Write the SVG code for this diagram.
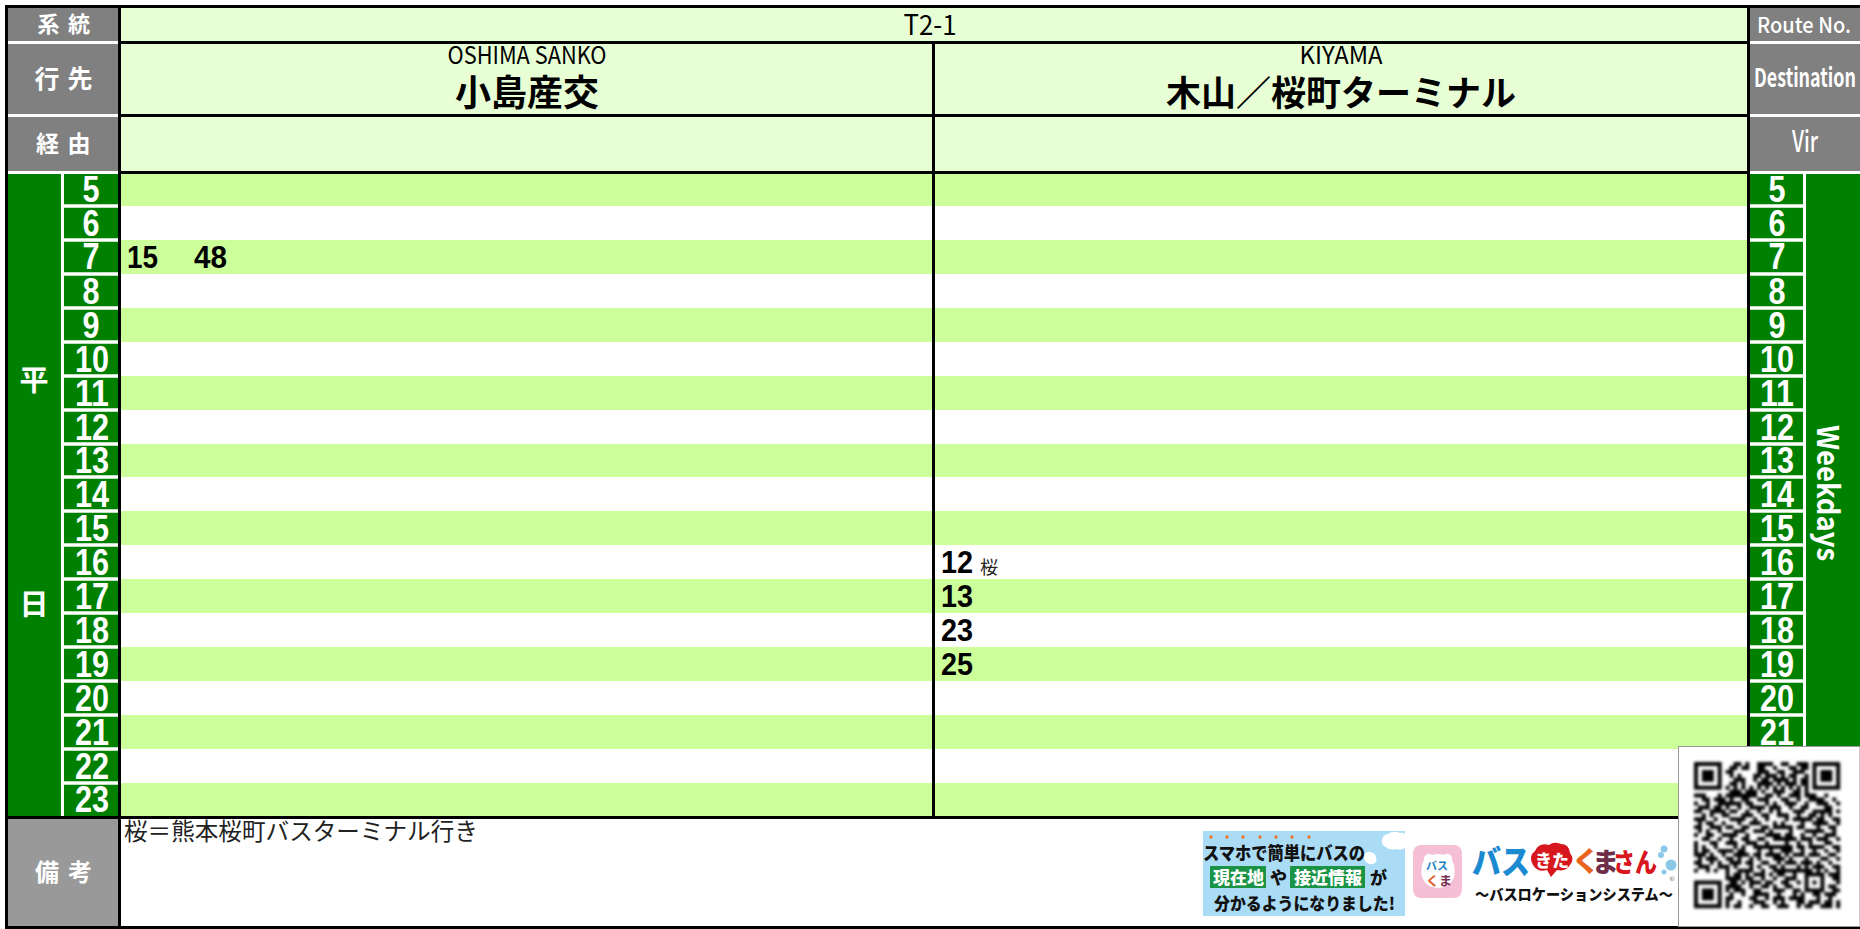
<svg xmlns="http://www.w3.org/2000/svg" width="1860" height="929" viewBox="0 0 1860 929">
<defs>
<filter id="soft" x="-5%" y="-5%" width="110%" height="110%"><feGaussianBlur stdDeviation="0.4"/></filter>
</defs>
<style>
text{font-family:"Noto Sans CJK JP","Liberation Sans",sans-serif}
.lab{fill:#fff;font-weight:700;text-anchor:middle}
.hr{fill:#fff;font-family:"Liberation Sans",Arial,sans-serif;font-weight:700;font-size:37px;text-anchor:middle}
.t{fill:#000;font-family:"Liberation Sans",Arial,sans-serif;font-weight:700;font-size:32px}
.en{fill:#000;font-size:24px;text-anchor:middle}
.dest{fill:#000;font-size:36px;font-weight:700;text-anchor:middle}
.hd{fill:#e8ffd5}.band{fill:#ccff99}.g{fill:#008000}.k{fill:#000}.w{fill:#fff}.gy{fill:#808080}
.ad{font-weight:900;fill:#111;font-size:22px}
</style>
<rect class="w" width="1860" height="929"/>
<g id="header-cells">
<rect class="hd" x="121" y="8" width="1626" height="163"/>
<rect class="gy" x="8" y="8" width="110" height="163"/>
<rect class="gy" x="1750" y="8" width="110" height="163"/>
<rect class="w" x="8" y="41" width="110" height="3"/><rect class="w" x="8" y="114" width="110" height="3"/><rect class="w" x="8" y="171" width="110" height="3"/>
<rect class="w" x="1750" y="41" width="110" height="3"/><rect class="w" x="1750" y="114" width="110" height="3"/><rect class="w" x="1750" y="171" width="110" height="3"/>
</g>
<g id="bands">
<rect class="band" x="121" y="174" width="1626" height="32"/>
<rect class="band" x="121" y="240" width="1626" height="34"/>
<rect class="band" x="121" y="308" width="1626" height="34"/>
<rect class="band" x="121" y="376" width="1626" height="34"/>
<rect class="band" x="121" y="444" width="1626" height="33"/>
<rect class="band" x="121" y="511" width="1626" height="34"/>
<rect class="band" x="121" y="579" width="1626" height="34"/>
<rect class="band" x="121" y="647" width="1626" height="34"/>
<rect class="band" x="121" y="715" width="1626" height="34"/>
<rect class="band" x="121" y="783" width="1626" height="33"/>
</g>
<g id="green-columns">
<rect class="g" x="8" y="174" width="110" height="642"/>
<rect class="g" x="1750" y="174" width="110" height="642"/>
<rect class="w" x="61" y="174" width="3" height="642"/>
<rect class="w" x="1803" y="174" width="3" height="642"/>
<path d="M61 206H118M61 240H118M61 274H118M61 308H118M61 342H118M61 376H118M61 410H118M61 444H118M61 477H118M61 511H118M61 545H118M61 579H118M61 613H118M61 647H118M61 681H118M61 715H118M61 749H118M61 783H118M1750 206H1806M1750 240H1806M1750 274H1806M1750 308H1806M1750 342H1806M1750 376H1806M1750 410H1806M1750 444H1806M1750 477H1806M1750 511H1806M1750 545H1806M1750 579H1806M1750 613H1806M1750 647H1806M1750 681H1806M1750 715H1806M1750 749H1806" stroke="#fff" stroke-width="3.4" fill="none"/>
</g>
<g id="remarks-cell">
<rect x="8" y="819" width="110" height="107" fill="#999"/>
</g>
<g id="rules">
<rect class="k" x="5" y="5" width="1855" height="3"/>
<rect class="k" x="5" y="5" width="3" height="924"/>
<rect class="k" x="118" y="5" width="3" height="921"/>
<rect class="k" x="1747" y="5" width="3" height="814"/>
<rect class="k" x="932" y="41" width="3" height="775"/>
<rect class="k" x="121" y="41" width="1626" height="3"/>
<rect class="k" x="121" y="114" width="1626" height="3"/>
<rect class="k" x="121" y="171" width="1626" height="3"/>
<rect class="k" x="5" y="816" width="1745" height="3"/>
<rect class="k" x="5" y="926" width="1855" height="3"/>
</g>
<g id="left-labels">
<text class="lab" x="48.5" y="32" font-size="22">系</text><text class="lab" x="79" y="32" font-size="22">統</text>
<text class="lab" x="47" y="88" font-size="25">行</text><text class="lab" x="80" y="88" font-size="25">先</text>
<text class="lab" x="47.5" y="152" font-size="23">経</text><text class="lab" x="79" y="152" font-size="23">由</text>
<text class="lab" x="47" y="881" font-size="24">備</text><text class="lab" x="80" y="881" font-size="24">考</text>
<text class="lab" x="34" y="391" font-size="29">平</text><text class="lab" x="34" y="615" font-size="29">日</text>
</g>
<g id="right-labels">
<text class="lab" x="1804" y="33" font-size="22" textLength="94" lengthAdjust="spacingAndGlyphs" style="font-weight:500">Route No.</text>
<text class="lab" x="1805" y="87" font-size="26" textLength="102" lengthAdjust="spacingAndGlyphs">Destination</text>
<text class="lab" x="1805" y="152" font-size="29" textLength="26" lengthAdjust="spacingAndGlyphs" style="font-weight:500">Vir</text>
<text class="lab" font-size="30" textLength="136" lengthAdjust="spacingAndGlyphs" transform="translate(1817,493) rotate(90)">Weekdays</text>
</g>
<g id="left-hours">
<text class="hr" x="91" y="202" textLength="17" lengthAdjust="spacingAndGlyphs">5</text>
<text class="hr" x="91" y="236" textLength="17" lengthAdjust="spacingAndGlyphs">6</text>
<text class="hr" x="91" y="269" textLength="17" lengthAdjust="spacingAndGlyphs">7</text>
<text class="hr" x="91" y="304" textLength="17" lengthAdjust="spacingAndGlyphs">8</text>
<text class="hr" x="91" y="338" textLength="17" lengthAdjust="spacingAndGlyphs">9</text>
<text class="hr" x="92" y="372" textLength="34" lengthAdjust="spacingAndGlyphs">10</text>
<text class="hr" x="92" y="406" textLength="34" lengthAdjust="spacingAndGlyphs">11</text>
<text class="hr" x="92" y="440" textLength="34" lengthAdjust="spacingAndGlyphs">12</text>
<text class="hr" x="92" y="473" textLength="34" lengthAdjust="spacingAndGlyphs">13</text>
<text class="hr" x="92" y="507" textLength="34" lengthAdjust="spacingAndGlyphs">14</text>
<text class="hr" x="92" y="541" textLength="34" lengthAdjust="spacingAndGlyphs">15</text>
<text class="hr" x="92" y="575" textLength="34" lengthAdjust="spacingAndGlyphs">16</text>
<text class="hr" x="92" y="609" textLength="34" lengthAdjust="spacingAndGlyphs">17</text>
<text class="hr" x="92" y="643" textLength="34" lengthAdjust="spacingAndGlyphs">18</text>
<text class="hr" x="92" y="677" textLength="34" lengthAdjust="spacingAndGlyphs">19</text>
<text class="hr" x="92" y="711" textLength="34" lengthAdjust="spacingAndGlyphs">20</text>
<text class="hr" x="92" y="745" textLength="34" lengthAdjust="spacingAndGlyphs">21</text>
<text class="hr" x="92" y="779" textLength="34" lengthAdjust="spacingAndGlyphs">22</text>
<text class="hr" x="92" y="812" textLength="34" lengthAdjust="spacingAndGlyphs">23</text>
</g>
<g id="right-hours">
<text class="hr" x="1777" y="202" textLength="17" lengthAdjust="spacingAndGlyphs">5</text>
<text class="hr" x="1777" y="236" textLength="17" lengthAdjust="spacingAndGlyphs">6</text>
<text class="hr" x="1777" y="269" textLength="17" lengthAdjust="spacingAndGlyphs">7</text>
<text class="hr" x="1777" y="304" textLength="17" lengthAdjust="spacingAndGlyphs">8</text>
<text class="hr" x="1777" y="338" textLength="17" lengthAdjust="spacingAndGlyphs">9</text>
<text class="hr" x="1777" y="372" textLength="34" lengthAdjust="spacingAndGlyphs">10</text>
<text class="hr" x="1777" y="406" textLength="34" lengthAdjust="spacingAndGlyphs">11</text>
<text class="hr" x="1777" y="440" textLength="34" lengthAdjust="spacingAndGlyphs">12</text>
<text class="hr" x="1777" y="473" textLength="34" lengthAdjust="spacingAndGlyphs">13</text>
<text class="hr" x="1777" y="507" textLength="34" lengthAdjust="spacingAndGlyphs">14</text>
<text class="hr" x="1777" y="541" textLength="34" lengthAdjust="spacingAndGlyphs">15</text>
<text class="hr" x="1777" y="575" textLength="34" lengthAdjust="spacingAndGlyphs">16</text>
<text class="hr" x="1777" y="609" textLength="34" lengthAdjust="spacingAndGlyphs">17</text>
<text class="hr" x="1777" y="643" textLength="34" lengthAdjust="spacingAndGlyphs">18</text>
<text class="hr" x="1777" y="677" textLength="34" lengthAdjust="spacingAndGlyphs">19</text>
<text class="hr" x="1777" y="711" textLength="34" lengthAdjust="spacingAndGlyphs">20</text>
<text class="hr" x="1777" y="745" textLength="34" lengthAdjust="spacingAndGlyphs">21</text>
</g>
<g id="header-text">
<text class="en" x="930" y="35" textLength="53" lengthAdjust="spacingAndGlyphs" style="font-size:28px">T2-1</text>
<text class="en" x="527" y="64" textLength="159" lengthAdjust="spacingAndGlyphs">OSHIMA SANKO</text>
<text class="dest" x="527" y="106">小島産交</text>
<text class="en" x="1341" y="64" textLength="83" lengthAdjust="spacingAndGlyphs">KIYAMA</text>
<text class="dest" x="1341" y="106" style="font-size:35px">木山／桜町ターミナル</text>
</g>
<g id="times">
<text class="t" x="127" y="268" textLength="31" lengthAdjust="spacingAndGlyphs">15</text>
<text class="t" x="194" y="268" textLength="33" lengthAdjust="spacingAndGlyphs">48</text>
<text class="t" x="941" y="573" textLength="32" lengthAdjust="spacingAndGlyphs">12</text>
<text x="980" y="574" font-size="18" fill="#222">桜</text>
<text class="t" x="941" y="607" textLength="32" lengthAdjust="spacingAndGlyphs">13</text>
<text class="t" x="941" y="641" textLength="32" lengthAdjust="spacingAndGlyphs">23</text>
<text class="t" x="941" y="675" textLength="32" lengthAdjust="spacingAndGlyphs">25</text>
</g>
<g id="remark">
<text x="124" y="840" font-size="23.6" fill="#222">桜＝熊本桜町バスターミナル行き</text>
</g>
<g id="banner">
<rect x="1203" y="831" width="202" height="85" fill="#abdcf5"/>
<path d="M1384 846a7 7 0 0 1 4-12q6-4 12-1a6 6 0 0 1 5 1v14q-4 3-9 1q-6 2-12-3zM1364 858a5 5 0 0 1 6-6q6 1 6 6q2 4-3 6q-7 1-9-6z" fill="#fff"/>
<g fill="#e8762c"><circle cx="1211" cy="837" r="1.7"/><circle cx="1227" cy="837" r="1.7"/><circle cx="1243" cy="837" r="1.7"/><circle cx="1260" cy="837" r="1.7"/><circle cx="1276" cy="837" r="1.7"/><circle cx="1292" cy="837" r="1.7"/><circle cx="1309" cy="837" r="1.7"/></g>
<text class="ad" x="1203" y="860" textLength="162" lengthAdjust="spacingAndGlyphs" style="font-size:18px">スマホで簡単にバスの</text>
<rect x="1210" y="866" width="56" height="22" fill="#1a9345"/>
<rect x="1290" y="866" width="75" height="22" fill="#1a9345"/>
<text class="ad" x="1213" y="884" style="font-size:17px;fill:#fff">現在地</text>
<text class="ad" x="1294" y="884" style="font-size:17px;fill:#fff">接近情報</text>
<text class="ad" x="1270" y="884" style="font-size:17px">や</text>
<text class="ad" x="1370" y="884" style="font-size:17px">が</text>
<text class="ad" x="1214" y="910" textLength="181" lengthAdjust="spacingAndGlyphs" style="font-size:17px">分かるようになりました!</text>
</g>
<g id="logo">
<rect x="1413" y="845" width="49" height="53" rx="8" fill="#f5bfd6"/>
<path d="M1424 860a5 5 0 0 1 8-5q6-2 12 0a5 5 0 0 1 8 5q4 8 2 17q-4 11-16 11q-12 0-16-11q-2-9 2-17z" fill="#fff"/>
<text x="1426" y="870" font-size="11" font-weight="700" fill="#1b7fc4">バス</text>
<text x="1426" y="885" font-size="13" font-weight="700" fill="#e0602a">く<tspan fill="#7a2d4a">ま</tspan></text>
<text x="1472" y="874" font-size="33" font-weight="900" fill="#1b8ad0" textLength="58" lengthAdjust="spacingAndGlyphs">バス</text>
<path d="M1551 877l-4-7q-9 3-14-5q-5-9 2-14q4-9 14-6q5-4 12-1q8 0 9 9q5 6 0 12q-4 7-13 5z" fill="#d7161e"/>
<text x="1535" y="867" font-size="17" font-weight="900" fill="#fff">きた</text>
<text x="1572" y="872" font-size="28" font-weight="900" fill="#e8641f">く</text>
<text x="1592" y="872" font-size="27" font-weight="900" fill="#6e2e48">ま</text>
<text x="1613" y="872" font-size="26" font-weight="900" fill="#d7161e" textLength="44" lengthAdjust="spacingAndGlyphs">さん</text>
<g fill="#8cc8e8"><circle cx="1664" cy="849" r="3.5"/><circle cx="1661" cy="855" r="3"/><circle cx="1671" cy="865" r="5.5"/><circle cx="1664" cy="872" r="2.5"/></g>
<text x="1672" y="881" font-size="6" fill="#444" text-anchor="middle">©</text>
<text x="1475" y="900" font-size="15" font-weight="900" fill="#111" textLength="198" lengthAdjust="spacingAndGlyphs">～バスロケーションシステム～</text>
</g>
<g id="qr">
<rect x="1678.5" y="746.5" width="181.5" height="180" fill="#fff" stroke="#999" stroke-width="1"/>
<path filter="url(#soft)" transform="translate(1694,762) scale(3.95)" fill="none" stroke="#000" stroke-width="1" d="
M0 .5h7M10 .5h2M13 .5h1M16 .5h4M22 .5h2M26 .5h3M30 .5h7
M0 1.5h1M6 1.5h1M9 1.5h2M12 1.5h2M16 1.5h2M20 1.5h1M24 1.5h2M27 1.5h2M30 1.5h1M36 1.5h1
M0 2.5h1M2 2.5h3M6 2.5h1M8 2.5h2M16 2.5h3M21 2.5h2M25 2.5h3M30 2.5h1M32 2.5h3M36 2.5h1
M0 3.5h1M2 3.5h3M6 3.5h1M9 3.5h1M11 3.5h1M15 3.5h2M18 3.5h3M22 3.5h1M24 3.5h2M28 3.5h1M30 3.5h1M32 3.5h3M36 3.5h1
M0 4.5h1M2 4.5h3M6 4.5h1M10 4.5h3M15 4.5h1M17 4.5h2M20 4.5h4M25 4.5h1M27 4.5h2M30 4.5h1M32 4.5h3M36 4.5h1
M0 5.5h1M6 5.5h1M9 5.5h2M12 5.5h1M16 5.5h4M21 5.5h1M23 5.5h3M27 5.5h2M30 5.5h1M36 5.5h1
M0 6.5h7M8 6.5h1M10 6.5h1M12 6.5h1M14 6.5h1M16 6.5h1M18 6.5h1M20 6.5h1M22 6.5h1M24 6.5h1M26 6.5h1M28 6.5h1M30 6.5h7
M9 7.5h3M13 7.5h3M17 7.5h1M20 7.5h3M25 7.5h2M28 7.5h1
M0 8.5h3M6 8.5h1M8 8.5h8M18 8.5h2M21 8.5h1M24 8.5h3M28 8.5h3M33 8.5h1
M2 9.5h2M5 9.5h3M9 9.5h1M12 9.5h2M16 9.5h3M22 9.5h2M26 9.5h1M29 9.5h4M35 9.5h1
M0 10.5h1M3 10.5h1M6 10.5h6M13 10.5h2M18 10.5h1M20 10.5h1M23 10.5h3M28 10.5h1M31 10.5h3M36 10.5h1
M1 11.5h3M5 11.5h2M8 11.5h1M11 11.5h1M14 11.5h4M19 11.5h3M24 11.5h1M27 11.5h2M33 11.5h2
M0 12.5h2M4 12.5h4M9 12.5h2M13 12.5h1M16 12.5h1M19 12.5h1M21 12.5h1M25 12.5h3M30 12.5h5M36 12.5h1
M2 13.5h1M4 13.5h1M7 13.5h2M12 13.5h3M17 13.5h2M21 13.5h3M26 13.5h1M29 13.5h2M32 13.5h1M34 13.5h1
M0 14.5h3M5 14.5h1M9 14.5h4M15 14.5h1M18 14.5h1M23 14.5h1M25 14.5h5M31 14.5h2M35 14.5h2
M1 15.5h1M3 15.5h2M7 15.5h1M11 15.5h1M14 15.5h3M20 15.5h1M22 15.5h1M27 15.5h1M30 15.5h4M36 15.5h1
M0 16.5h2M4 16.5h3M8 16.5h2M12 16.5h2M17 16.5h2M20 16.5h5M26 16.5h2M31 16.5h1M34 16.5h2
M1 17.5h1M3 17.5h1M6 17.5h1M10 17.5h3M15 17.5h3M19 17.5h1M24 17.5h1M28 17.5h5M35 17.5h1
M0 18.5h1M3 18.5h2M7 18.5h4M13 18.5h1M18 18.5h4M23 18.5h2M27 18.5h1M30 18.5h1M33 18.5h3
M2 19.5h2M6 19.5h1M9 19.5h1M12 19.5h2M16 19.5h2M20 19.5h6M27 19.5h3M31 19.5h3M36 19.5h1
M0 20.5h1M4 20.5h2M8 20.5h3M13 20.5h3M18 20.5h1M23 20.5h1M26 20.5h1M29 20.5h1M33 20.5h2
M0 21.5h1M2 21.5h1M5 21.5h1M10 21.5h1M12 21.5h1M15 21.5h10M26 21.5h2M29 21.5h4M35 21.5h2
M0 22.5h1M2 22.5h2M6 22.5h4M11 22.5h2M16 22.5h1M19 22.5h1M22 22.5h3M27 22.5h1M30 22.5h1M33 22.5h1M36 22.5h1
M0 23.5h3M4 23.5h1M7 23.5h1M10 23.5h4M15 23.5h2M18 23.5h4M23 23.5h1M25 23.5h3M29 23.5h3M34 23.5h2
M1 24.5h1M3 24.5h3M8 24.5h2M11 24.5h1M14 24.5h1M16 24.5h1M20 24.5h3M24 24.5h1M28 24.5h1M32 24.5h2M36 24.5h1
M0 25.5h2M4 25.5h1M6 25.5h1M9 25.5h3M13 25.5h2M17 25.5h2M21 25.5h1M23 25.5h3M27 25.5h3M31 25.5h1M34 25.5h1
M1 26.5h3M6 26.5h3M10 26.5h1M14 26.5h1M16 26.5h1M19 26.5h2M22 26.5h1M26 26.5h1M28 26.5h1M30 26.5h3M35 26.5h2
M0 27.5h1M3 27.5h1M5 27.5h1M8 27.5h1M11 27.5h4M17 27.5h1M20 27.5h10M31 27.5h1M33 27.5h1M36 27.5h1
M8 28.5h1M10 28.5h2M13 28.5h1M15 28.5h3M19 28.5h1M21 28.5h2M25 28.5h1M28 28.5h5M34 28.5h3
M8 29.5h4M13 29.5h2M17 29.5h1M20 29.5h1M23 29.5h3M28 29.5h1M32 29.5h1M35 29.5h2
M0 30.5h7M9 30.5h2M12 30.5h1M14 30.5h3M18 30.5h2M22 30.5h2M26 30.5h1M28 30.5h1M30 30.5h1M32 30.5h1M36 30.5h1
M0 31.5h1M6 31.5h1M8 31.5h4M14 31.5h1M17 31.5h2M20 31.5h1M23 31.5h2M28 31.5h1M32 31.5h1M34 31.5h2
M0 32.5h1M2 32.5h3M6 32.5h1M8 32.5h1M10 32.5h3M15 32.5h2M20 32.5h3M25 32.5h2M28 32.5h5M35 32.5h2
M0 33.5h1M2 33.5h3M6 33.5h1M9 33.5h1M12 33.5h1M15 33.5h4M21 33.5h1M25 33.5h1M27 33.5h1M30 33.5h2M33 33.5h3
M0 34.5h1M2 34.5h3M6 34.5h1M8 34.5h2M14 34.5h2M18 34.5h1M20 34.5h3M24 34.5h4M31 34.5h1M34 34.5h1
M0 35.5h1M6 35.5h1M8 35.5h1M11 35.5h1M15 35.5h3M20 35.5h1M22 35.5h1M26 35.5h2M29 35.5h3M33 35.5h2M36 35.5h1
M0 36.5h7M8 36.5h1M10 36.5h2M14 36.5h1M17 36.5h2M21 36.5h3M26 36.5h1M28 36.5h2M32 36.5h3M36 36.5h1"/>
</g>
</svg>
